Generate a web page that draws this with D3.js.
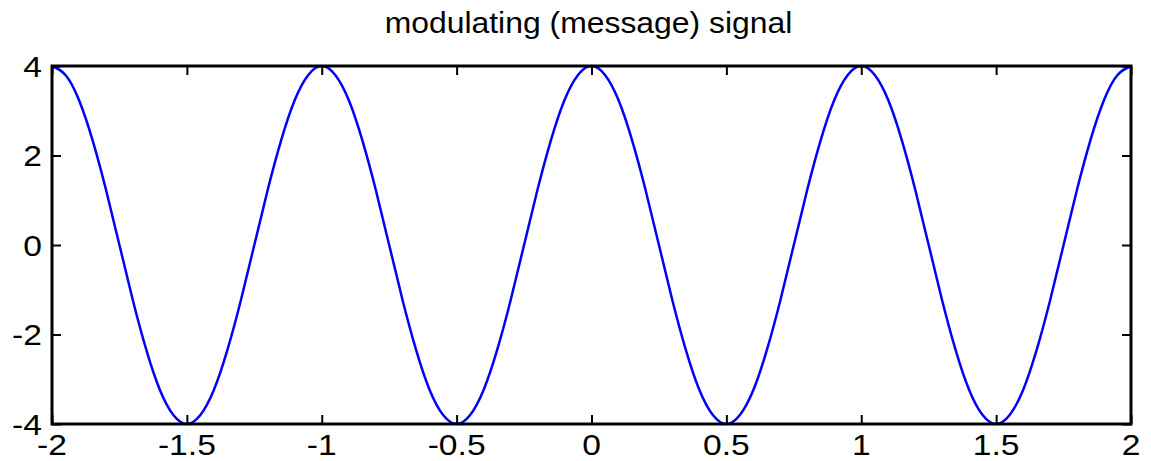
<!DOCTYPE html>
<html>
<head>
<meta charset="utf-8">
<script src="https://cdn.jsdelivr.net/npm/d3@7"></script>
<style>
  body { margin: 0; background: #fff; }
  text { font-family: "Liberation Sans", Arial, Helvetica, sans-serif; fill: #000; }
</style>
</head>
<body>
<svg class="sig-svg"></svg>
<script>
// time samples (s)
const t = [
  -2, -1.95, -1.9, -1.85, -1.8, -1.75, -1.7, -1.65, -1.6, -1.55,
  -1.5, -1.45, -1.4, -1.35, -1.3, -1.25, -1.2, -1.15, -1.1, -1.05,
  -1, -0.95, -0.9, -0.85, -0.8, -0.75, -0.7, -0.65, -0.6, -0.55,
  -0.5, -0.45, -0.4, -0.35, -0.3, -0.25, -0.2, -0.15, -0.1, -0.05,
  0, 0.05, 0.1, 0.15, 0.2, 0.25, 0.3, 0.35, 0.4, 0.45,
  0.5, 0.55, 0.6, 0.65, 0.7, 0.75, 0.8, 0.85, 0.9, 0.95,
  1, 1.05, 1.1, 1.15, 1.2, 1.25, 1.3, 1.35, 1.4, 1.45,
  1.5, 1.55, 1.6, 1.65, 1.7, 1.75, 1.8, 1.85, 1.9, 1.95,
  2
]

// message signal
const m = [
  4, 3.8, 3.24, 2.35, 1.24, 0, -1.24, -2.35, -3.24, -3.8,
  -4, -3.8, -3.24, -2.35, -1.24, 0, 1.24, 2.35, 3.24, 3.8,
  4, 3.8, 3.24, 2.35, 1.24, 0, -1.24, -2.35, -3.24, -3.8,
  -4, -3.8, -3.24, -2.35, -1.24, 0, 1.24, 2.35, 3.24, 3.8,
  4, 3.8, 3.24, 2.35, 1.24, 0, -1.24, -2.35, -3.24, -3.8,
  -4, -3.8, -3.24, -2.35, -1.24, 0, 1.24, 2.35, 3.24, 3.8,
  4, 3.8, 3.24, 2.35, 1.24, 0, -1.24, -2.35, -3.24, -3.8,
  -4, -3.8, -3.24, -2.35, -1.24, 0, 1.24, 2.35, 3.24, 3.8,
  4
]

const xTicks = [-2, -1.5, -1, -0.5, 0, 0.5, 1, 1.5, 2]
const yTicks = [-4, -2, 0, 2, 4]
const title = 'modulating (message) signal'

const draw = () => {

    const width = 1151
    const height = 461
    const left = 52, right = 1131, top = 66, bottom = 424

    const svg = d3.select('.sig-svg')
        .attr('width', width)
        .attr('height', height)

    const x = d3.scaleLinear().domain([-2, 2]).range([left, right])
    const y = d3.scaleLinear().domain([-4, 4]).range([bottom, top])

    const tickLen = 9

    // signal
    const line = d3.line()
        .x((d, i) => x(t[i]))
        .y(d => y(d))
        .curve(d3.curveNatural)

    svg.append('path')
        .datum(m)
        .attr('d', line)
        .attr('fill', 'none')
        .attr('stroke', '#0000ff')
        .attr('stroke-width', 2.5)

    // inward ticks on all four sides
    const axisStyle = g => {
        g.select('.domain').remove()
        g.selectAll('.tick line').attr('stroke', '#000').attr('stroke-width', 2)
        g.selectAll('.tick text').remove()
    }

    svg.append('g')
        .attr('transform', `translate(0,${bottom})`)
        .call(d3.axisTop(x).tickValues(xTicks).tickSize(tickLen))
        .call(axisStyle)

    svg.append('g')
        .attr('transform', `translate(0,${top})`)
        .call(d3.axisBottom(x).tickValues(xTicks).tickSize(tickLen))
        .call(axisStyle)

    svg.append('g')
        .attr('transform', `translate(${left},0)`)
        .call(d3.axisRight(y).tickValues(yTicks).tickSize(tickLen))
        .call(axisStyle)

    svg.append('g')
        .attr('transform', `translate(${right},0)`)
        .call(d3.axisLeft(y).tickValues(yTicks).tickSize(tickLen))
        .call(axisStyle)

    // box
    svg.append('rect')
        .attr('x', left)
        .attr('y', top)
        .attr('width', right - left)
        .attr('height', bottom - top)
        .attr('fill', 'none')
        .attr('stroke', '#000')
        .attr('stroke-width', 3)

    // tick labels, slightly stretched like the source
    svg.selectAll('.xlab')
        .data(xTicks)
        .enter()
        .append('text')
        .attr('class', 'xlab')
        .attr('transform', d => `translate(${x(d)},455) scale(1.12,1)`)
        .attr('text-anchor', 'middle')
        .style('font-size', '30px')
        .text(d => String(d))

    svg.selectAll('.ylab')
        .data(yTicks)
        .enter()
        .append('text')
        .attr('class', 'ylab')
        .attr('transform', d => `translate(42,${y(d)}) scale(1.12,1)`)
        .attr('dy', '0.35em')
        .attr('text-anchor', 'end')
        .style('font-size', '30px')
        .text(d => String(d))

    svg.append('text')
        .attr('transform', `translate(${(left + right) / 2 - 3},33) scale(1.1,1)`)
        .attr('text-anchor', 'middle')
        .style('font-size', '29px')
        .text(title)
}

draw()
</script>
</body>
</html>
